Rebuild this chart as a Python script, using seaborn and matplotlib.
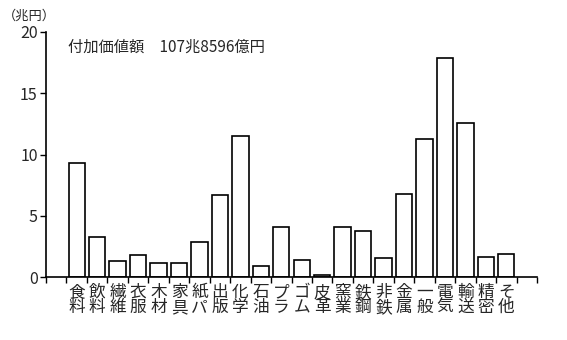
import matplotlib
matplotlib.use("Agg")
import matplotlib.pyplot as plt
import seaborn as sns
import pandas as pd
import numpy as np

categories = ["食料", "飲料", "繊維", "衣服", "木材", "家具", "紙パ", "出版", "化学", "石油", "プラ",
              "ゴム", "皮革", "窯業", "鉄鋼", "非鉄", "金属", "一般", "電気", "輸送", "精密", "その他"]
tick_labels = ["食\n料", "飲\n料", "繊\n維", "衣\n服", "木\n材", "家\n具", "紙\nパ", "出\n版", "化\n学",
               "石\n油", "プ\nラ", "ゴ\nム", "皮\n革", "窯\n業", "鉄\n鋼", "非\n鉄", "金\n属", "一\n般",
               "電\n気", "輸\n送", "精\n密", "そ\n他"]
values = [9.28, 3.29, 1.33, 1.82, 1.16, 1.16, 2.89, 6.66, 11.52, 0.92, 4.11,
          1.41, 0.18, 4.11, 3.79, 1.57, 6.74, 11.25, 17.89, 12.56, 1.66, 1.90]
y_ticks = [0, 5, 10, 15, 20]
title_text = "付加価値額　107兆8596億円"
unit_text = "（兆円）"

sns.set_theme(style="white")
plt.rcParams['font.family'] = ['Noto Sans CJK JP', 'DejaVu Sans']

df = pd.DataFrame({"cat": categories, "val": values})

fig = plt.figure(figsize=(5.67, 3.40), dpi=100)
ax = fig.add_axes([46/567, 1 - 277/340, (537 - 46)/567, (277 - 32)/340])

sns.barplot(data=df, x="cat", y="val", order=categories, color="white",
            edgecolor="black", linewidth=1.2, width=0.8, ax=ax, saturation=1)

ax.set_xlim(-1.5, len(categories) + 0.5)
ax.set_ylim(0, 20)
ax.set_xlabel("")
ax.set_ylabel("")

ax.set_xticks(range(len(categories)))
ax.set_xticklabels(tick_labels, fontsize=12, linespacing=0.85)
ax.tick_params(axis="x", which="major", length=0, pad=5)
ax.set_xticks(np.arange(-1.5, len(categories) + 1.0, 1.0), minor=True)
ax.tick_params(axis="x", which="minor", length=4, width=1, color="black", direction="out", bottom=True)

ax.set_yticks(y_ticks)
ax.set_yticklabels([str(v) for v in y_ticks], fontsize=11.5)
ax.tick_params(axis="y", length=4, width=1, color="black", direction="out", left=True, pad=2)

for s in ["top", "right"]:
    ax.spines[s].set_visible(False)
for s in ["left", "bottom"]:
    ax.spines[s].set_color("black")
    ax.spines[s].set_linewidth(1.2)

fig.text(68/567, 1 - 47/340, title_text, fontsize=11, va="center", ha="left")
fig.text(3/567, 1 - 16/340, unit_text, fontsize=9.5, va="center", ha="left")

fig.savefig("out.png", dpi=100, facecolor="white")
